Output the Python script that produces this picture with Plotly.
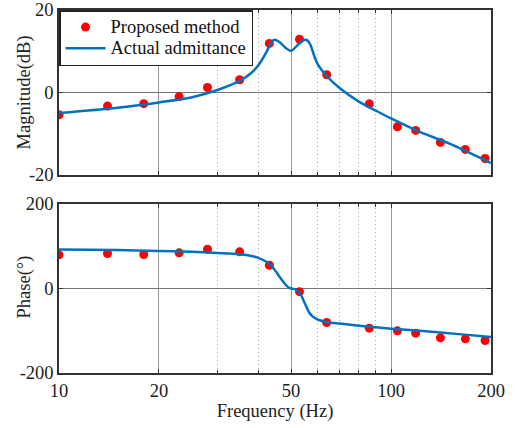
import plotly.graph_objects as go
from plotly.subplots import make_subplots

# Measured points (Proposed method)
freq_pts = [10, 14, 18, 23, 28, 35, 43, 53, 64, 86, 104.5, 118.6, 140.8, 167.4, 192]
mag_pts = [-5.4, -3.3, -2.7, -1.0, 1.2, 3.1, 11.9, 12.9, 4.3, -2.75, -8.3, -9.2, -12.1, -13.8, -16.0]
phase_pts = [79.6, 82.8, 80.4, 84.4, 93.1, 86.7, 55.0, -7.5, -80.4, -93.9, -100.2, -105.7, -116.8, -119.2, -123.2]

# Actual admittance curve
freq_mag = [10, 15, 20, 25, 30, 35, 38, 40, 42, 43.5, 44.5, 46, 48, 50, 52, 54, 55.5, 57, 58.5, 60, 64, 70, 80, 90, 100, 120, 150, 200]
mag_curve = [-5.0, -3.7, -2.4, -1.2, 0.6, 2.8, 4.8, 6.8, 9.6, 12.0, 12.8, 12.3, 10.9, 10.1, 11.3, 12.5, 12.8, 11.8, 9.2, 7.0, 4.0, 1.1, -2.2, -4.4, -6.3, -9.3, -12.4, -17.1]
freq_ph = [10, 15, 20, 25, 30, 35, 38, 40, 42, 43.5, 45, 46.5, 48, 49, 50, 51, 52, 53.5, 55, 56.5, 58, 60, 62, 66, 70, 80, 100, 130, 160, 200]
phase_curve = [92, 91, 89, 87, 84, 81, 77, 72, 64, 55, 40, 24, 10, 3, 0, -1, -4, -15, -35, -55, -66, -73, -77, -81, -83, -88, -95, -102, -108, -115]

xticks = [10, 20, 50, 100, 200]
xticklabels = ["10", "20", "50", "100", "200"]
minor_ticks = [30, 40, 60, 70, 80, 90]
mag_ticks = [-20, 0, 20]
mag_ticklabels = ["-20", "0", "20"]
phase_ticks = [-200, 0, 200]
phase_ticklabels = ["-200", "0", "200"]

fig = make_subplots(rows=2, cols=1, shared_xaxes=False, vertical_spacing=0.08)

blue = "#0072BD"
red = "#FF0000"
fs = 18.5

def big(s):
    return "<span style='font-size:%spx'>%s</span>" % (fs, s)

fig.add_trace(go.Scatter(x=freq_pts, y=mag_pts, mode="markers", name=big("Proposed method"),
                         marker=dict(color=red, size=9), showlegend=True), row=1, col=1)
fig.add_trace(go.Scatter(x=freq_mag, y=mag_curve, mode="lines", name=big("Actual admittance"),
                         line=dict(color=blue, width=2.5, shape="spline", smoothing=0.8)), row=1, col=1)
fig.add_trace(go.Scatter(x=freq_pts, y=phase_pts, mode="markers", showlegend=False,
                         marker=dict(color=red, size=9)), row=2, col=1)
fig.add_trace(go.Scatter(x=freq_ph, y=phase_curve, mode="lines", showlegend=False,
                         line=dict(color=blue, width=2.5, shape="spline", smoothing=0.8)), row=2, col=1)

font = "Liberation Serif, Times New Roman, serif"
axcol = "#333333"

xcommon = dict(type="log", range=[1, 2.30103], tickmode="array", tickvals=xticks, ticktext=xticklabels,
               showline=True, mirror="ticks", linecolor=axcol, linewidth=1.5,
               ticks="inside", ticklen=4, tickcolor=axcol,
               showgrid=True, gridcolor="#999999", gridwidth=1.2,
               minor=dict(tickmode="array", tickvals=minor_ticks, showgrid=True,
                          gridcolor="#aaaaaa", griddash="1px,3px", gridwidth=1,
                          ticks="inside", ticklen=3, tickcolor=axcol),
               zeroline=False, automargin=False, ticklabeloverflow="allow",
               tickfont=dict(family=font, size=fs, color="#222"))

fig.update_xaxes(**xcommon)
fig.update_xaxes(showticklabels=False, row=1, col=1)
fig.update_xaxes(title=dict(text="Frequency (Hz)", font=dict(family=font, size=fs, color="#222"), standoff=4), row=2, col=1)

ycommon = dict(showline=True, mirror="ticks", linecolor=axcol, linewidth=1.5,
               ticks="inside", ticklen=4, tickcolor=axcol, tickmode="array",
               showgrid=True, gridcolor="#777777", gridwidth=1.2, zeroline=False, automargin=False,
               ticklabeloverflow="allow",
               tickfont=dict(family=font, size=fs, color="#222"))
fig.update_yaxes(**ycommon)
fig.update_yaxes(range=[-20, 20], tickvals=mag_ticks, ticktext=mag_ticklabels, row=1, col=1)
fig.update_yaxes(range=[-200, 200], tickvals=phase_ticks, ticktext=phase_ticklabels, row=2, col=1)

# y-axis titles as rotated annotations
for txt, yy in [("Magnitude(dB)", 0.774), ("Phase(°)", 0.2369)]:
    fig.add_annotation(text=txt, xref="paper", yref="paper", x=-0.0799, y=yy,
                       xanchor="center", yanchor="middle", textangle=-90, showarrow=False,
                       font=dict(family=font, size=fs, color="#222"))

fig.update_layout(
    width=521, height=428,
    margin=dict(l=59, r=30, t=10, b=55),
    plot_bgcolor="white", paper_bgcolor="white",
    font=dict(family=font, size=fs, color="#222"),
    legend=dict(x=0, y=1, xanchor="left", yanchor="top",
                bgcolor="white", bordercolor="#222", borderwidth=1.5,
                font=dict(family=font, size=14, color="#111"),
                tracegroupgap=0, itemwidth=40),
)
fig.layout.yaxis.domain = [0.5455, 1.0]
fig.layout.yaxis2.domain = [0.0, 0.4656]

fig.write_html("out.html", config={"displayModeBar": False},
               post_script="document.body.style.margin='0';")
